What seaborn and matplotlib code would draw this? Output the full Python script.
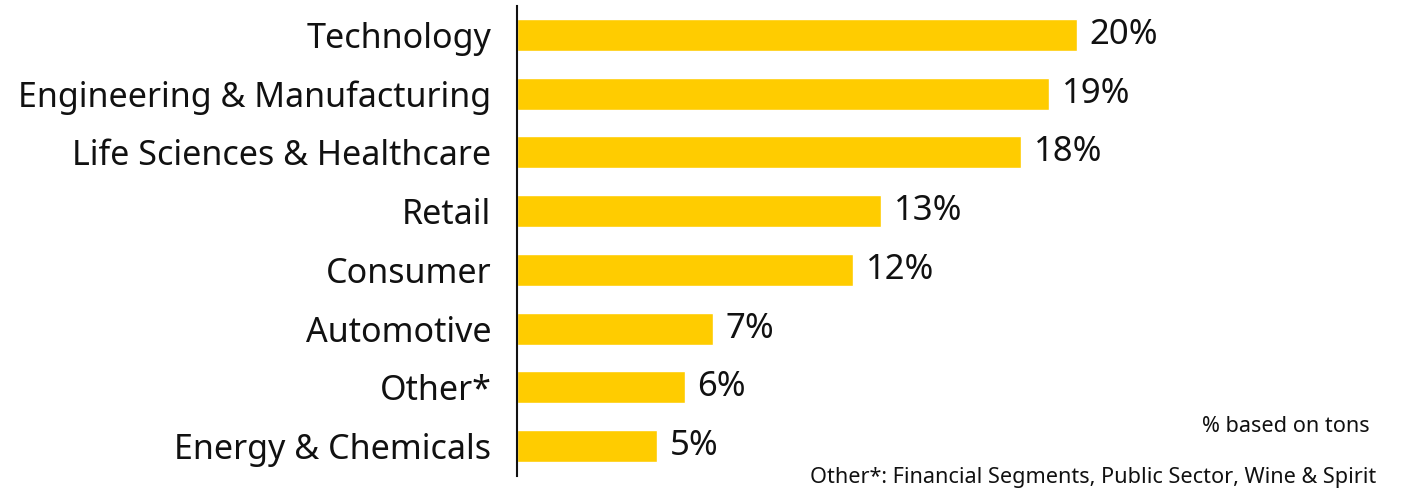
import matplotlib
matplotlib.use("Agg")
import matplotlib.pyplot as plt
import seaborn as sns
import pandas as pd

categories = ["Technology", "Engineering & Manufacturing", "Life Sciences & Healthcare",
              "Retail", "Consumer", "Automotive", "Other*", "Energy & Chemicals"]
values = [20, 19, 18, 13, 12, 7, 6, 5]
value_labels = ["20%", "19%", "18%", "13%", "12%", "7%", "6%", "5%"]
note_basis = "% based on tons"
note_other = "Other*: Financial Segments, Public Sector, Wine & Spirit"

sns.set_theme(style="white")
plt.rcParams['font.family'] = ['Noto Sans', 'DejaVu Sans']

df = pd.DataFrame({"category": categories, "value": values})

W, H = 1408, 492
fig = plt.figure(figsize=(W / 100, H / 100), dpi=100)
ax = fig.add_axes([517 / W, 1 - 475.6 / H, 860 / W, 470 / H])

sns.barplot(data=df, x="value", y="category", orient="h", color="#FFCC00",
            width=0.545, saturation=1, ax=ax)

ax.set_xlim(0, 860 / 28)
ax.set_ylim(7.5, -0.5)
ax.set_xlabel("")
ax.set_ylabel("")
ax.set_xticks([])
ax.tick_params(axis="y", length=0, pad=18.5, labelsize=24.5, labelcolor="#111111")
for s in ["top", "right", "bottom"]:
    ax.spines[s].set_visible(False)
ax.spines["left"].set_color("#111111")
ax.spines["left"].set_linewidth(1.5)

ax.bar_label(ax.containers[0], labels=value_labels, padding=9, fontsize=25, color="#111111")

fig.text(1370 / W, 1 - 427 / H, note_basis, ha="right", va="center", fontsize=15.6, color="#111111")
fig.text(1376 / W, 1 - 478 / H, note_other, ha="right", va="center", fontsize=15.6, color="#111111")

fig.savefig("out.png", dpi=100)
